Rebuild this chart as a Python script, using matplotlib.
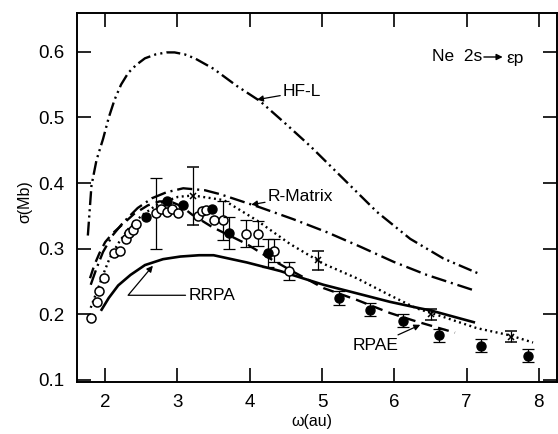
import numpy as np
import matplotlib.pyplot as plt

plt.rcParams['font.family'] = ['Liberation Sans', 'DejaVu Sans']
plt.rcParams['lines.scale_dashes'] = False

# theory curves, omega (au) vs sigma (Mb)
hfl_w = [1.76, 1.81, 1.88, 1.97, 2.05, 2.13, 2.22, 2.32, 2.43, 2.55, 2.70, 2.85, 2.96,
         3.10, 3.24, 3.50, 3.82, 4.14, 4.50, 4.84, 5.30, 5.76, 6.22, 6.68, 7.19]
hfl_s = [0.320, 0.396, 0.435, 0.467, 0.500, 0.527, 0.550, 0.568, 0.580, 0.590, 0.596, 0.599, 0.599,
         0.596, 0.590, 0.574, 0.548, 0.525, 0.490, 0.456, 0.406, 0.356, 0.315, 0.285, 0.261]

rmat_w = [1.80, 1.88, 1.97, 2.10, 2.25, 2.45, 2.65, 2.85, 3.08, 3.38, 3.59, 4.14, 4.60,
          5.07, 5.53, 5.99, 6.45, 7.09]
rmat_s = [0.245, 0.270, 0.295, 0.320, 0.340, 0.362, 0.377, 0.386, 0.392, 0.389, 0.383, 0.363, 0.345,
          0.325, 0.303, 0.280, 0.260, 0.237]

rpae_w = [1.79, 1.85, 1.92, 2.00, 2.10, 2.22, 2.40, 2.59, 2.75, 2.90, 3.05, 3.20, 3.48,
          3.96, 4.28, 4.60, 5.02, 5.48, 5.94, 6.31, 6.84]
rpae_s = [0.255, 0.275, 0.293, 0.310, 0.323, 0.335, 0.353, 0.366, 0.372, 0.372, 0.365, 0.352, 0.333,
          0.307, 0.285, 0.265, 0.240, 0.222, 0.202, 0.189, 0.172]

dot_w = [1.80, 1.83, 1.90, 1.97, 2.06, 2.18, 2.32, 2.50, 2.73, 3.01, 3.22, 3.64, 4.10,
         4.56, 5.02, 5.48, 5.94, 6.31, 6.68, 7.14, 7.60, 7.92]
dot_s = [0.210, 0.219, 0.239, 0.260, 0.285, 0.308, 0.330, 0.350, 0.368, 0.379, 0.381, 0.374, 0.343,
         0.307, 0.277, 0.255, 0.229, 0.209, 0.196, 0.179, 0.168, 0.157]

rrpa_w = [1.95, 2.05, 2.18, 2.35, 2.55, 2.80, 3.04, 3.30, 3.50, 3.96, 4.42, 4.56, 5.02,
          5.48, 5.94, 6.36, 6.50, 7.10]
rrpa_s = [0.207, 0.225, 0.244, 0.260, 0.275, 0.284, 0.288, 0.290, 0.290, 0.279, 0.266, 0.261, 0.245,
          0.232, 0.219, 0.209, 0.206, 0.188]

# experiment
open_w = [1.80, 1.88, 1.92, 1.98, 2.12, 2.20, 2.29, 2.33, 2.38, 2.43, 2.70, 2.77, 2.85, 2.93,
          3.01, 3.28, 3.34, 3.39, 3.50, 3.63, 3.95, 4.12, 4.34, 4.55]
open_s = [0.195, 0.218, 0.235, 0.255, 0.294, 0.297, 0.314, 0.324, 0.329, 0.337, 0.354, 0.360, 0.356, 0.360,
          0.355, 0.350, 0.357, 0.359, 0.344, 0.343, 0.323, 0.323, 0.297, 0.266]
open_e = [0, 0, 0, 0, 0, 0, 0, 0, 0, 0, 0.054, 0, 0, 0,
          0, 0, 0, 0, 0, 0.030, 0.020, 0.019, 0.018, 0.013]

full_w = [2.57, 2.85, 3.07, 3.48, 3.71, 4.25, 5.24, 5.67, 6.12, 6.62, 7.20, 7.85]
full_s = [0.348, 0.372, 0.367, 0.361, 0.324, 0.293, 0.225, 0.207, 0.190, 0.168, 0.152, 0.137]
full_e = [0, 0, 0, 0, 0.025, 0.021, 0.011, 0.010, 0.010, 0.010, 0.010, 0.010]

cross_w = [3.22, 4.94, 6.51, 7.62]
cross_s = [0.380, 0.282, 0.200, 0.166]
cross_e = [0.044, 0.014, 0.008, 0.008]

fig = plt.figure(figsize=(5.58, 4.34), dpi=100)
ax = fig.add_axes([0.138, 0.12, 0.860, 0.850])

ax.plot(hfl_w, hfl_s, color='k', lw=1.7, dashes=(10, 3, 1.5, 3, 1.5, 3))
ax.plot(rmat_w, rmat_s, color='k', lw=1.7, dashes=(11, 3.5, 1.5, 3.5))
ax.plot(rpae_w, rpae_s, color='k', lw=1.7, dashes=(8, 4.5))
ax.plot(dot_w, dot_s, color='k', lw=1.7, dashes=(1.4, 2.5))
ax.plot(rrpa_w, rrpa_s, color='k', lw=1.9)

ow = np.array(open_w); os_ = np.array(open_s); oe = np.array(open_e)
m = oe > 0
ax.errorbar(ow[m], os_[m], yerr=oe[m], fmt='none', ecolor='k', elinewidth=0.9, capsize=4, capthick=0.9)
ax.plot(ow, os_, 'o', ms=6.5, mfc='white', mec='k', mew=1.1)

fw = np.array(full_w); fs = np.array(full_s); fe = np.array(full_e)
m = fe > 0
ax.errorbar(fw[m], fs[m], yerr=fe[m], fmt='none', ecolor='k', elinewidth=0.9, capsize=4, capthick=0.9)
ax.plot(fw, fs, 'o', ms=6.5, mfc='k', mec='k')

ax.errorbar(cross_w, cross_s, yerr=cross_e, fmt='x', ms=4.5, mew=1.1, color='k',
            elinewidth=0.9, capsize=4, capthick=0.9)

arrow = dict(arrowstyle='-|>', color='k', lw=0.9, mutation_scale=9, shrinkA=0, shrinkB=0)
ax.annotate('HF-L', xy=(4.10, 0.527), xytext=(4.46, 0.539), fontsize=12.5, va='center', arrowprops=arrow)
ax.annotate('R-Matrix', xy=(4.02, 0.367), xytext=(4.25, 0.380), fontsize=12.5, va='center', arrowprops=arrow)
ax.annotate('RRPA', xy=(2.66, 0.274), xytext=(3.15, 0.229), fontsize=12.5, va='center',
            arrowprops=dict(arrow, connectionstyle='angle,angleA=0,angleB=50,rad=0'))
ax.annotate('RPAE', xy=(6.36, 0.184), xytext=(5.42, 0.153), fontsize=12.5, va='center', arrowprops=arrow)

# reaction label with a drawn arrow
ax.text(6.52, 0.592, 'Ne  2s', fontsize=12.5, va='center')
ax.annotate('', xy=(7.50, 0.592), xytext=(7.24, 0.592),
            arrowprops=dict(arrowstyle='-|>', color='k', lw=1.0, mutation_scale=9, shrinkA=0, shrinkB=0))
ax.text(7.55, 0.590, '\u03b5p', fontsize=12.5, va='center')

ax.set_xlim(1.61, 8.25)
ax.set_ylim(0.097, 0.659)
ax.set_xticks([2, 3, 4, 5, 6, 7, 8])
ax.set_yticks([0.1, 0.2, 0.3, 0.4, 0.5, 0.6])
ax.tick_params(direction='in', length=10, width=1.2, top=True, right=True, labelsize=13.5, pad=9)
for s in ax.spines.values():
    s.set_linewidth(1.4)

ax.set_xlabel('\u03c9(au)', fontsize=11.5)
ax.set_ylabel('\u03c3(Mb)', fontsize=11.5)
ax.xaxis.set_label_coords(0.49, -0.088)
ax.yaxis.set_label_coords(-0.092, 0.49)

plt.savefig('out.png', dpi=100)
